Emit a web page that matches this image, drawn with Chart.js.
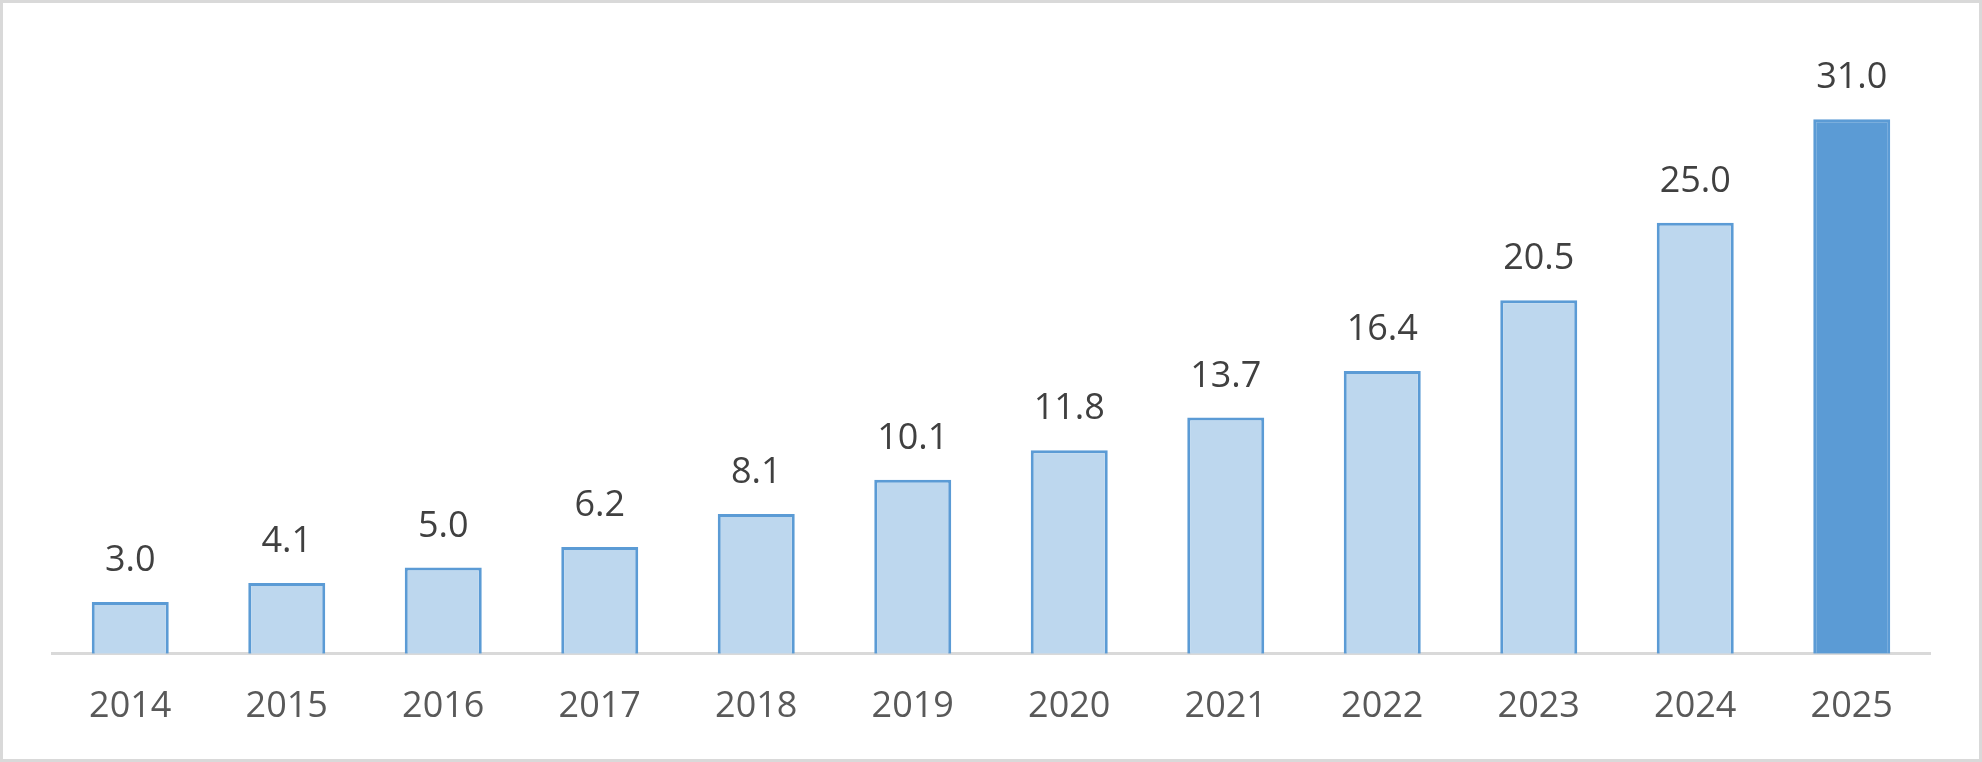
<!DOCTYPE html>
<html>
<head>
<meta charset="utf-8">
<script src="https://cdn.jsdelivr.net/npm/chart.js@4"></script>
<style>
    html, body { margin: 0; padding: 0; background: #fff; }
    canvas { display: block; }
</style>
</head>
<body>
<canvas id="myChart" width="1982" height="762"></canvas>
<script>
// chart data
var years = ['2014', '2015', '2016', '2017', '2018', '2019', '2020', '2021', '2022', '2023', '2024', '2025'];
var values = [3.0, 4.1, 5.0, 6.2, 8.1, 10.1, 11.8, 13.7, 16.4, 20.5, 25.0, 31.0];

document.addEventListener("DOMContentLoaded", function () {
    const myChart = document.getElementById('myChart');
    var lightBlue = '#BDD7EE';
    var blue = '#5B9BD5';
    var fills = years.map(function (y, i) { return i === years.length - 1 ? blue : lightBlue; });

    // values above bars
    var valueLabels = {
        id: 'valueLabels',
        afterDatasetsDraw: function (chart) {
            var ctx = chart.ctx;
            var meta = chart.getDatasetMeta(0);
            ctx.save();
            ctx.font = '36px "Open Sans"';
            ctx.fillStyle = '#404040';
            ctx.textAlign = 'center';
            ctx.textBaseline = 'alphabetic';
            meta.data.forEach(function (bar, i) {
                ctx.fillText(values[i].toFixed(1), bar.x, bar.y - 31);
            });
            ctx.restore();
        }
    };

    // outer frame
    var frame = {
        id: 'frame',
        beforeDraw: function (chart) {
            var ctx = chart.ctx;
            ctx.save();
            ctx.fillStyle = '#fff';
            ctx.fillRect(0, 0, chart.width, chart.height);
            ctx.strokeStyle = '#D9D9D9';
            ctx.lineWidth = 3;
            ctx.strokeRect(1.5, 1.5, chart.width - 3, chart.height - 3);
            ctx.restore();
        }
    };

    new Chart(myChart, {
        type: 'bar',
        data: {
            labels: years,
            datasets: [{
                data: values,
                backgroundColor: fills,
                borderColor: blue,
                borderWidth: 3,
                barPercentage: 0.492,
                categoryPercentage: 1
            }]
        },
        options: {
            responsive: false,
            devicePixelRatio: 1,
            animation: false,
            layout: {
                padding: { left: 52, right: 52, top: 33, bottom: 3 }
            },
            plugins: {
                legend: { display: false },
                tooltip: { enabled: false }
            },
            scales: {
                x: {
                    grid: { display: false, drawTicks: false },
                    border: { display: true, color: '#D9D9D9', width: 3 },
                    ticks: {
                        color: '#595959',
                        padding: 31,
                        font: { family: 'Open Sans', size: 36 }
                    }
                },
                y: {
                    display: false,
                    min: 0,
                    max: 36
                }
            }
        },
        plugins: [frame, valueLabels]
    });
});
</script>
</body>
</html>
